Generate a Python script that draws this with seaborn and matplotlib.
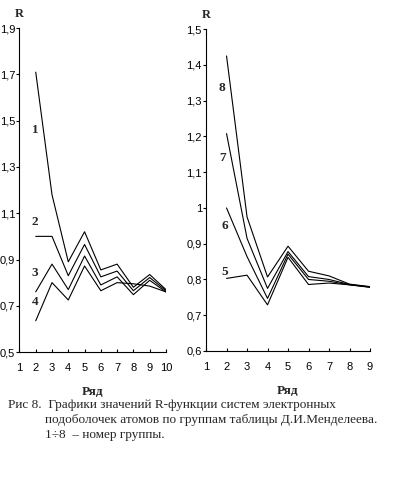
import matplotlib
matplotlib.use("Agg")
import matplotlib.pyplot as plt
import seaborn as sns
import pandas as pd

# Левый график: группы 1-4, ряды 2..10
rows_left = [2, 3, 4, 5, 6, 7, 8, 9, 10]
g1 = [1.71, 1.18, 0.89, 1.02, 0.855, 0.88, 0.78, 0.835, 0.77]
g2 = [1.00, 1.00, 0.83, 0.965, 0.825, 0.85, 0.765, 0.822, 0.765]
g3 = [0.76, 0.88, 0.77, 0.915, 0.79, 0.825, 0.748, 0.81, 0.76]
g4 = [0.635, 0.80, 0.725, 0.872, 0.765, 0.80, 0.795, 0.785, 0.76]

# Правый график: группы 5-8, ряды 2..9
rows_right = [2, 3, 4, 5, 6, 7, 8, 9]
g5 = [0.803, 0.812, 0.729, 0.862, 0.786, 0.79, 0.785, 0.778]
g6 = [1.00, 0.864, 0.747, 0.871, 0.80, 0.795, 0.785, 0.779]
g7 = [1.208, 0.915, 0.775, 0.878, 0.808, 0.80, 0.786, 0.779]
g8 = [1.425, 0.975, 0.807, 0.893, 0.823, 0.81, 0.787, 0.78]

left_ticks_y = [0.5, 0.7, 0.9, 1.1, 1.3, 1.5, 1.7, 1.9]
right_ticks_y = [0.6, 0.7, 0.8, 0.9, 1.0, 1.1, 1.2, 1.3, 1.4, 1.5]

caption = ["Рис 8.  Графики значений R-функции систем электронных",
           "подоболочек атомов по группам таблицы Д.И.Менделеева.",
           "1÷8  – номер группы."]


def to_long(rows, series):
    frames = []
    for name, vals in series.items():
        frames.append(pd.DataFrame({"row": rows, "R": vals, "group": name}))
    return pd.concat(frames, ignore_index=True)


def comma(v):
    return ("%g" % v).replace(".", ",")


sns.set_theme(style="white")
plt.rcParams["font.family"] = ["Liberation Sans", "DejaVu Sans"]

fig = plt.figure(figsize=(3.97, 4.84), dpi=100)
axl = fig.add_axes([0.049, 0.2727, 0.369, 0.669])
axr = fig.add_axes([0.519, 0.2748, 0.413, 0.665])

df_l = to_long(rows_left, {"1": g1, "2": g2, "3": g3, "4": g4})
df_r = to_long(rows_right, {"5": g5, "6": g6, "7": g7, "8": g8})

black = {k: "black" for k in "12345678"}
sns.lineplot(data=df_l, x="row", y="R", hue="group", palette=black,
             legend=False, lw=0.8, ax=axl)
sns.lineplot(data=df_r, x="row", y="R", hue="group", palette=black,
             legend=False, lw=0.8, ax=axr)

for ax, xmax, yt in [(axl, 10, left_ticks_y), (axr, 9, right_ticks_y)]:
    ax.set_xlim(1, xmax)
    ax.set_ylim(yt[0], yt[-1])
    ax.set_xticks(range(1, xmax + 1))
    ax.set_yticks(yt)
    ax.set_yticklabels([comma(v) for v in yt])
    for s in ["top", "right"]:
        ax.spines[s].set_visible(False)
    for s in ["left", "bottom"]:
        ax.spines[s].set_color("black")
        ax.spines[s].set_linewidth(0.8)
    ax.tick_params(axis="x", direction="in", length=2, width=0.8, labelsize=8,
                   pad=8, colors="black", bottom=True)
    ax.tick_params(axis="y", direction="out", length=2, width=0.8, labelsize=8,
                   pad=1, colors="black", left=True)
    ax.set_xlabel("Ряд", fontsize=9.5, fontweight="bold", family="Liberation Serif",
                  labelpad=9)
    ax.set_ylabel("")
    ax.text(0, 1.025, "R", transform=ax.transAxes, fontsize=9, fontweight="bold",
            family="Liberation Serif", ha="center", va="bottom")
    ax.grid(False)

serif_b = dict(fontsize=9.5, fontweight="bold", family="Liberation Serif",
               ha="center", va="center")
for txt, x, y in [("1", 1.95, 1.46), ("2", 1.95, 1.06), ("3", 1.95, 0.84), ("4", 1.95, 0.716)]:
    axl.text(x, y, txt, **serif_b)
for txt, x, y in [("8", 1.78, 1.335), ("7", 1.8, 1.14), ("6", 1.9, 0.95), ("5", 1.9, 0.82)]:
    axr.text(x, y, txt, **serif_b)

cap_kw = dict(fontsize=9.5, family="Liberation Serif", va="center", ha="left")
fig.text(8 / 397, 1 - 405 / 484, caption[0], **cap_kw)
fig.text(45 / 397, 1 - 420 / 484, caption[1], **cap_kw)
fig.text(45 / 397, 1 - 435 / 484, caption[2], **cap_kw)

fig.savefig("out.png", dpi=100)
